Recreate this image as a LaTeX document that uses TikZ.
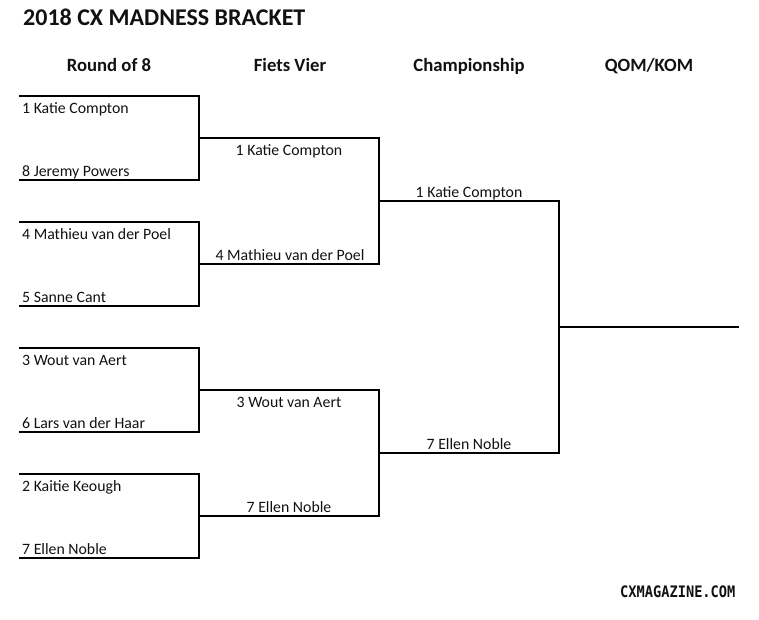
\documentclass[tikz,border=0pt]{standalone}
\usepackage{fontspec}
\setmainfont{Carlito}
\newfontfamily\stampfont{DejaVu Sans Mono}
\definecolor{rule-black}{HTML}{000000}
\definecolor{text-black}{HTML}{111111}

\begin{document}
\begin{tikzpicture}[x=1pt, y=-1pt,
      every node/.style={inner sep=0pt, text=text-black,
        font=\fontsize{15.8}{18}\selectfont},
      heading/.style={anchor=base, font=\bfseries\fontsize{18.7}{22}\selectfont},
      seed/.style={anchor=base west},
      winner/.style={anchor=base},
      bracket/.style={line width=1.1pt, rule-black}]
    \useasboundingbox (0,0) rectangle (759,619);
    % title and column heads
    \node[anchor=base west, font=\bfseries\fontsize{24}{28}\selectfont]
          (title) at (23,25) {2018 CX MADNESS BRACKET};
    \node[heading] (H1) at (109,71.5) {Round of 8};
    \node[heading] (H2) at (290,71.5) {Fiets Vier};
    \node[heading] (H3) at (469,71.5) {Championship};
    \node[heading] (H4) at (649,71.5) {QOM/KOM};
    % slot ends
    \coordinate (A1l) at (19,96);  \coordinate (A1r) at (199,96);
    \coordinate (A2l) at (19,180); \coordinate (A2r) at (199,180);
    \coordinate (A3l) at (19,222); \coordinate (A3r) at (199,222);
    \coordinate (A4l) at (19,306); \coordinate (A4r) at (199,306);
    \coordinate (A5l) at (19,348); \coordinate (A5r) at (199,348);
    \coordinate (A6l) at (19,432); \coordinate (A6r) at (199,432);
    \coordinate (A7l) at (19,474); \coordinate (A7r) at (199,474);
    \coordinate (A8l) at (19,558); \coordinate (A8r) at (199,558);
    \coordinate (B1l) at (199,138); \coordinate (B1r) at (379,138);
    \coordinate (B2l) at (199,264); \coordinate (B2r) at (379,264);
    \coordinate (B3l) at (199,390); \coordinate (B3r) at (379,390);
    \coordinate (B4l) at (199,516); \coordinate (B4r) at (379,516);
    \coordinate (C1l) at (379,201); \coordinate (C1r) at (559,201);
    \coordinate (C2l) at (379,453); \coordinate (C2r) at (559,453);
    \coordinate (D1l) at (559,327); \coordinate (D1r) at (739,327);
    % round of 8
    \node[seed] (a1) at (22,113) {1 Katie Compton};
    \node[seed] (a2) at (22,176) {8 Jeremy Powers};
    \node[seed] (a3) at (22,239) {4 Mathieu van der Poel};
    \node[seed] (a4) at (22,302) {5 Sanne Cant};
    \node[seed] (a5) at (22,365) {3 Wout van Aert};
    \node[seed] (a6) at (22,428) {6 Lars van der Haar};
    \node[seed] (a7) at (22,491) {2 Kaitie Keough};
    \node[seed] (a8) at (22,554) {7 Ellen Noble};
    % fiets vier
    \node[winner] (b1) at (289,155) {1 Katie Compton};
    \node[winner] (b2) at (290,260) {4 Mathieu van der Poel};
    \node[winner] (b3) at (289,407) {3 Wout van Aert};
    \node[winner] (b4) at (289,512) {7 Ellen Noble};
    % championship
    \node[winner] (c1) at (469,197) {1 Katie Compton};
    \node[winner] (c2) at (469,449) {7 Ellen Noble};
    % bracket lines
    \draw[bracket] (A1l) -- (A1r) -- (A2r) -- (A2l);
    \draw[bracket] (A3l) -- (A3r) -- (A4r) -- (A4l);
    \draw[bracket] (A5l) -- (A5r) -- (A6r) -- (A6l);
    \draw[bracket] (A7l) -- (A7r) -- (A8r) -- (A8l);
    \draw[bracket] (B1l) -- (B1r) -- (B2r) -- (B2l);
    \draw[bracket] (B3l) -- (B3r) -- (B4r) -- (B4l);
    \draw[bracket] (C1l) -- (C1r) -- (C2r) -- (C2l);
    \draw[bracket] (D1l) -- (D1r);
    % watermark
    \node[seed, font=\stampfont\bfseries\fontsize{15.8}{18}\selectfont]
          (stamp) at (620,597) {\scalebox{0.865}[1]{CXMAGAZINE.COM}};
  \end{tikzpicture}
\end{document}
